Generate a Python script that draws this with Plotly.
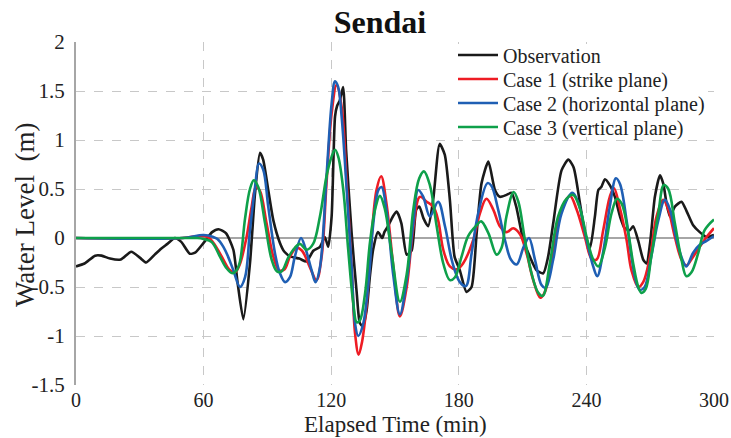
import plotly.graph_objects as go

# Observation
obs_t = [0, 4, 9, 12, 16, 21, 26, 30, 33, 37, 40, 43, 46.5, 49.5, 53.5, 56, 60, 64, 67, 70.5, 74, 76, 78.7,
         81.8, 84.2, 86.5, 88, 90.4, 92.8, 95.9, 98, 101, 105, 108.4, 111.6, 114.7, 117, 118.6, 120.2, 121.8,
         122.8, 124, 125.6, 127, 129.6, 132, 133.5, 135, 136.7, 138.2, 139.7, 142, 144, 145, 146.7, 149, 150.8,
         153, 155.5, 157.8, 160, 161.5, 163.4, 165.6, 168, 171, 173.4, 175.8, 178, 180.5, 183.6, 186, 188.4,
         190.7, 193.9, 197, 199.3, 202.4, 204.8, 207, 210.3, 213.4, 216.6, 219.7, 222, 224.4, 228.3, 231.5, 234,
         237, 239.3, 241.7, 244, 245.6, 247, 248.7, 251, 253.4, 255.8, 258, 260.4, 262, 264.4, 266.7, 268.3, 270,
         272.2, 274.6, 276.2, 277.7, 279.3, 281.6, 284.7, 287, 290.2, 293.3, 296.5, 300]
obs_v = [-0.29, -0.26, -0.18, -0.18, -0.21, -0.22, -0.14, -0.2, -0.25, -0.17, -0.11, -0.06, 0.0, -0.04, -0.16,
         -0.15, -0.05, 0.06, 0.09, 0.05, -0.12, -0.46, -0.83,
         -0.26, 0.46, 0.87, 0.8, 0.49, 0.18, -0.05, -0.14, -0.19, -0.21, -0.24, -0.13, -0.09, 0.01, -0.09, 0.22, 1.24,
         1.35, 1.4, 1.54, 0.9, 0.05, -0.56, -0.87, -0.9, -0.73, -0.39, -0.12, 0.06, 0.0, 0.06, 0.12, 0.22, 0.27,
         0.15, -0.17, -0.13, 0.29, 0.32, 0.2, 0.12, 0.4, 0.96, 0.85, 0.39, -0.19, -0.33, -0.55, -0.5, 0.05,
         0.56, 0.78, 0.49, 0.42, 0.44, 0.46, 0.32, -0.02, -0.19, -0.33, -0.36, -0.19, 0.15, 0.69, 0.8, 0.72,
         0.35, 0.05, -0.1, 0.22, 0.49, 0.52, 0.6, 0.54, 0.42, 0.22, 0.1, 0.08, 0.12, -0.03, -0.22, -0.26, -0.04,
         0.42, 0.64, 0.55, 0.35, 0.22, 0.32, 0.37, 0.28, 0.13, 0.06, 0.01, 0.03]

# Case 1 (strike plane)
c1_t = [0, 50, 58, 62, 64.6, 69.3, 72, 74.8, 77, 80.2, 82.6, 84.6, 86.5, 89.6, 92.8, 95.5, 98, 100.6, 103.7,
        106.3, 110, 113.1, 115.5, 117.8, 120.2, 122.5, 124.9, 127.3, 129.6, 131.2, 132.9, 134.5, 136.7, 139,
        141.3, 143.5, 146, 149.2, 152.3, 155.5, 158.6, 161.7, 164.9, 168, 170.3, 172.7, 175.8, 179, 182,
        186.8, 189.9, 193, 196.2, 199.3, 202.4, 205.6, 208.7, 211.9, 215, 218.3, 220.5, 224.4, 228.3, 232.3,
        235.4, 239.3, 242.4, 244.8, 247.9, 251, 252.9, 255.8, 258.9, 261.2, 264.4, 266.7, 269.9, 273, 276.1,
        278.5, 281.6, 284.7, 287, 290.2, 293.3, 296.5, 300]
c1_v = [0, 0, 0.02, 0.01, -0.05, -0.22, -0.32, -0.35, -0.27, 0.01, 0.32, 0.52, 0.48, 0.15, -0.19, -0.33, -0.32,
        -0.19, -0.1, -0.13, -0.3, -0.43, -0.19, 0.56, 1.27, 1.56, 1.34, 0.56, -0.29, -0.97, -1.19, -1.06, -0.67,
        0.01, 0.49, 0.63, 0.35, -0.29, -0.8, -0.5, 0.1, 0.42, 0.37, 0.32, 0.18, -0.12, -0.29, -0.32, -0.26,
        -0.02, 0.25, 0.4, 0.29, 0.12, 0.06, 0.1, 0.04, -0.16, -0.43, -0.61, -0.55, -0.12, 0.29, 0.43,
        0.29, 0.01, -0.21, -0.22, 0.08, 0.42, 0.51, 0.3, -0.02, -0.33, -0.5, -0.45, -0.19, 0.22, 0.39,
        0.29, 0.01, -0.22, -0.28, -0.19, -0.09, 0.01, 0.1]

# Case 2 (horizontal plane)
c2_t = [0, 50, 60, 64.6, 66.5, 69.3, 71.5, 74, 77.1, 79.5, 81.8, 84.2, 86, 88, 90.4, 93.6, 95.9, 98.3, 100.6,
        102.9, 105.8, 107.8, 110.8, 112.6, 114.7, 117.8, 120.2, 121.8, 123.3, 124.9, 127.3, 129.6, 131.2, 132.7,
        135, 137.5, 139.8, 142.2, 143.7, 146, 149.2, 152.3, 155.5, 158.6, 160.9, 163.3, 166.4, 170.3, 173.5,
        177, 180.5, 183.3, 186, 189.1, 193.5, 195.4, 198.5, 201.7, 204.5, 207.2, 210.5, 213, 215.8, 218.9,
        220.8, 224.4, 228.3, 233.4, 236.2, 240.1, 243.2, 245.1, 247.9, 251, 253.9, 255.8, 258.9, 261.2, 263.5,
        265.1, 267.4, 270.5, 273.8, 276.9, 279.3, 282.4, 285.5, 287, 290.2, 293.3, 296.5, 300]
c2_v = [0, 0, 0.03, 0.01, -0.01, -0.09, -0.19, -0.33, -0.5, -0.4, 0.08, 0.52, 0.76, 0.7, 0.32, -0.16, -0.36,
        -0.45, -0.4, -0.19, 0.0, -0.1, -0.33, -0.45, -0.3, 0.63, 1.37, 1.6, 1.54, 1.24, 0.49, -0.29, -0.87, -1.0,
        -0.88, -0.46, 0.15, 0.49, 0.52, 0.28, -0.38, -0.78, -0.43, 0.15, 0.49, 0.42, 0.22, 0.37, 0.12,
        -0.25, -0.45, -0.49, -0.16, 0.25, 0.56, 0.53, 0.29, -0.02, -0.22, -0.27, -0.09, 0.0, -0.22, -0.48,
        -0.51, -0.22, 0.25, 0.46, 0.36, -0.02, -0.29, -0.39, -0.14, 0.32, 0.61, 0.55, 0.18, -0.19, -0.46,
        -0.53, -0.5, -0.19, 0.18, 0.39, 0.29, -0.02, -0.24, -0.29, -0.15, -0.07, -0.03, 0.02]

# Case 3 (vertical plane)
c3_t = [0, 52, 57, 60, 63.8, 67.7, 70.5, 73.5, 75.5, 77.1, 79.5, 81.8, 83.6, 85.7, 88.9, 92, 94.5, 96.7, 99.8,
        102.9, 105.3, 108.4, 111.5, 114.7, 117.8, 120.2, 121.8, 123.3, 125.7, 128, 130.4, 132, 133.5, 135.9,
        138.2, 140.6, 142.9, 145.2, 148.4, 152.3, 155.5, 158.6, 161.4, 163.6, 166.4, 169.6, 172.7, 175.8, 178.2,
        181.3, 184.4, 188.4, 190.5, 193.9, 197.8, 200.1, 202.4, 205.8, 208, 211.1, 214.2, 217.4, 219.5, 222.8,
        226.7, 230.6, 233.8, 237, 240.1, 243.2, 245.6, 248.7, 251.8, 254.4, 256.6, 259.7, 262, 264.4, 265.9,
        267.9, 270.5, 273.8, 276.4, 278.5, 281.6, 284.7, 287, 289.4, 292.5, 295.6, 300]
c3_v = [0, 0, 0.0, -0.01, -0.04, -0.19, -0.3, -0.36, -0.33, -0.24, 0.2, 0.5, 0.59, 0.52, 0.15, -0.22, -0.34,
        -0.34, -0.2, -0.1, -0.06, -0.12, -0.06, 0.22, 0.63, 0.83, 0.9, 0.83, 0.49, -0.12, -0.67, -0.86, -0.84,
        -0.57, -0.05, 0.29, 0.43, 0.3, -0.15, -0.65, -0.37, 0.29, 0.61, 0.68, 0.54, 0.12, -0.26, -0.43, -0.4,
        -0.19, 0.02, 0.13, 0.17, 0.05, -0.17, -0.1, 0.22, 0.47, 0.37, -0.02, -0.36, -0.56, -0.59, -0.26,
        0.22, 0.4, 0.44, 0.3, 0.01, -0.22, -0.29, -0.1, 0.25, 0.4, 0.35, 0.05, -0.26, -0.5, -0.56,
        -0.52, -0.19, 0.25, 0.54, 0.5, 0.15, -0.22, -0.39, -0.35, -0.16, 0.08, 0.19]

x_ticks = [0, 60, 120, 180, 240, 300]
y_ticks = [-1.5, -1, -0.5, 0, 0.5, 1, 1.5, 2]
y_tick_text = ["-1.5", "-1", "-0.5", "0", "0.5", "1", "1.5", "2"]

names = ["Observation", "Case 1 (strike plane)", "Case 2 (horizontal plane)", "Case 3 (vertical plane)"]
colors = ["#1a1a1a", "#ee1c24", "#1f5fb4", "#0ea04a"]

SERIF = "Liberation Serif, Times New Roman, serif"
W, H = 731, 438
L, R, T, B = 76, 17, 42, 53
PW, PH = W - L - R, H - T - B


def px_x(p):
    return (p - L) / PW


def px_y(p):
    return (T + PH - p) / PH


fig = go.Figure()
series = [(obs_t, obs_v), (c1_t, c1_v), (c2_t, c2_v), (c3_t, c3_v)]
legend_ids = ["legend", "legend2", "legend3", "legend4"]
for i, ((t, v), nm, col) in enumerate(zip(series, names, colors)):
    fig.add_trace(go.Scatter(
        x=t, y=v, mode="lines", name=nm, legend=legend_ids[i],
        line=dict(color=col, width=2.6, shape="spline", smoothing=0.6 if i == 0 else 1.0),
    ))

legend_rows_px = [55, 79, 103, 127]
leg_common = dict(x=px_x(453), xanchor="left", yanchor="middle", bgcolor="rgba(0,0,0,0)",
                  font=dict(family=SERIF, size=20, color="#222222"), itemwidth=40,
                  borderwidth=0)
legend_layout = {}
for lid, ypx in zip(legend_ids, legend_rows_px):
    legend_layout[lid] = dict(leg_common, y=px_y(ypx))

fig.update_layout(
    width=W, height=H,
    margin=dict(l=L, r=R, t=T, b=B),
    paper_bgcolor="white", plot_bgcolor="white",
    font=dict(family=SERIF, color="#222222"),
    title=dict(text="Sendai", x=380 / W, xanchor="center", y=1 - 22 / H, yanchor="middle",
               font=dict(family=SERIF, size=32, color="#111111", weight="bold")),
    showlegend=True,
    **legend_layout,
)
# white box behind the legend entries (covers the grid there)
fig.add_shape(type="rect", xref="paper", yref="paper", x0=px_x(450), x1=px_x(708), y0=px_y(137), y1=px_y(44),
              fillcolor="white", line=dict(width=0), layer="above")

fig.update_xaxes(
    range=[0, 300], tickvals=x_ticks, showgrid=True, gridcolor="#c8c8c8", griddash="dash", gridwidth=1,
    zeroline=False, showline=False, ticks="", ticklabelstandoff=1, automargin=False,
    tickfont=dict(family=SERIF, size=20, color="#222222"),
)
fig.update_yaxes(
    range=[-1.5, 2], tickvals=y_ticks, ticktext=y_tick_text, showgrid=True, gridcolor="#c8c8c8",
    griddash="dash", gridwidth=1, zeroline=True, zerolinecolor="#a6a6a6", zerolinewidth=2,
    showline=True, linecolor="#a6a6a6", linewidth=2, ticks="", ticklabelstandoff=5, automargin=False,
    tickfont=dict(family=SERIF, size=21, color="#222222"),
)
fig.add_annotation(text="Elapsed Time (min)", xref="paper", yref="paper", x=0.5, y=px_y(424),
                   xanchor="center", yanchor="middle", showarrow=False,
                   font=dict(family=SERIF, size=23, color="#222222"))
fig.add_annotation(text="Water Level  (m)", xref="paper", yref="paper", x=px_x(25), y=px_y(215),
                   xanchor="center", yanchor="middle", showarrow=False, textangle=-90,
                   font=dict(family=SERIF, size=27, color="#222222"))

fig.write_html("out.html")
